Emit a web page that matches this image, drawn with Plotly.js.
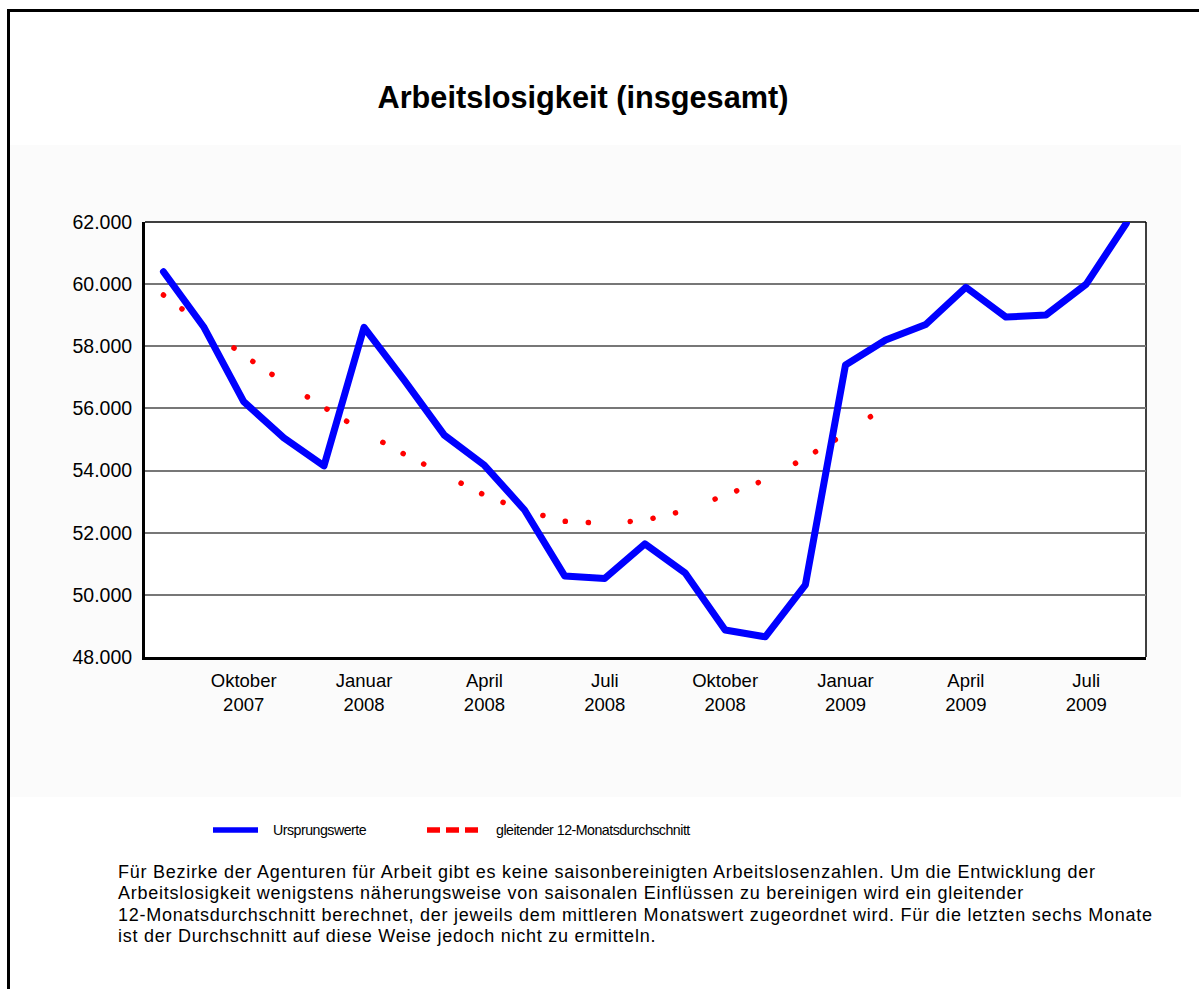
<!DOCTYPE html>
<html>
<head>
<meta charset="utf-8">
<script src="https://cdn.plot.ly/plotly-3.0.1.min.js"></script>
<style>
html,body{margin:0;padding:0;background:#ffffff;overflow:hidden;width:1199px;height:989px;}
#frame{position:absolute;left:7px;top:9px;width:1300px;height:1100px;border:3px solid #000;box-sizing:border-box;}
#panel{position:absolute;left:10px;top:145px;width:1171px;height:652px;background:#fbfbfb;}
#chart{position:absolute;left:0;top:0;width:1199px;height:989px;}
.scatterlayer .js-line{stroke-linecap:round !important;stroke-linejoin:round !important;}
.annotation[data-index="0"] text,.annotation[data-index="1"] text{letter-spacing:-0.5px;}
.annotation[data-index="2"] text,.annotation[data-index="3"] text,
.annotation[data-index="4"] text,.annotation[data-index="5"] text{letter-spacing:0.75px;}
</style>
</head>
<body>
<div id="frame"></div>
<div id="panel"></div>
<div id="chart"></div>
<script>
// Monate (August 2007 bis August 2009)
const months = ['Aug 2007','Sep 2007','Okt 2007','Nov 2007','Dez 2007',
  'Jan 2008','Feb 2008','Mär 2008','Apr 2008','Mai 2008','Jun 2008','Jul 2008',
  'Aug 2008','Sep 2008','Okt 2008','Nov 2008','Dez 2008',
  'Jan 2009','Feb 2009','Mär 2009','Apr 2009','Mai 2009','Jun 2009','Jul 2009','Aug 2009'];

// Ursprungswerte
const ursprungswerte = [60400, 58630, 56220, 55050, 54150,
  58610, 56910, 55140, 54170, 52730, 50610, 50530,
  51640, 50710, 48870, 48650, 50320,
  57400, 58200, 58700, 59900, 58940, 59010, 60000, 61960];

// gleitender 12-Monatsdurchschnitt (bis Februar 2009)
const maMonths = months.slice(0, 19);
const gleitenderDurchschnitt = [59650, 58660, 57710, 56840, 56020,
  55240, 54530, 53890, 53210, 52710, 52370, 52300,
  52400, 52715, 53190, 53700, 54410,
  55190, 56060];

// Achsenbeschriftungen
const tickMonths = ['Okt 2007','Jan 2008','Apr 2008','Jul 2008','Okt 2008','Jan 2009','Apr 2009','Jul 2009'];
const tickLabels = ['Oktober<br>2007','Januar<br>2008','April<br>2008','Juli<br>2008',
  'Oktober<br>2008','Januar<br>2009','April<br>2009','Juli<br>2009'];
const yTicks = [48000, 50000, 52000, 54000, 56000, 58000, 60000, 62000];

const titleText = 'Arbeitslosigkeit (insgesamt)';
const legendNames = ['Ursprungswerte', 'gleitender 12-Monatsdurchschnitt'];
const footnoteLines = [
  'Für Bezirke der Agenturen für Arbeit gibt es keine saisonbereinigten Arbeitslosenzahlen. Um die Entwicklung der',
  'Arbeitslosigkeit wenigstens näherungsweise von saisonalen Einflüssen zu bereinigen wird ein gleitender',
  '12-Monatsdurchschnitt berechnet, der jeweils dem mittleren Monatswert zugeordnet wird. Für die letzten sechs Monate',
  'ist der Durchschnitt auf diese Weise jedoch nicht zu ermitteln.'
];

const FONT = 'Liberation Sans, Arial, sans-serif';

const traces = [
  {
    type: 'scatter', mode: 'lines', name: legendNames[1],
    x: maMonths, y: gleitenderDurchschnitt,
    line: {color: '#ff0000', width: 5.5, dash: '0.1px,23px,0.1px,23px,0.1px,41.9px'},
    hoverinfo: 'x+y'
  },
  {
    type: 'scatter', mode: 'lines', name: legendNames[0],
    x: months, y: ursprungswerte,
    line: {color: '#0000ff', width: 7},
    hoverinfo: 'x+y'
  }
];

// pixel helpers for decoration placement (paper coordinates)
const L = 145, R = 53, T = 222, B = 332, W = 1199, H = 989;
const pw = W - L - R, ph = H - T - B;
const px = v => (v - L) / pw;
const py = v => (H - B - v) / ph;

const annotations = [
  {xref: 'paper', yref: 'paper', x: px(271), y: py(830), xanchor: 'left', yanchor: 'middle', align: 'left',
   showarrow: false, text: legendNames[0], font: {family: FONT, size: 14.2, color: '#000000'}},
  {xref: 'paper', yref: 'paper', x: px(494), y: py(830), xanchor: 'left', yanchor: 'middle', align: 'left',
   showarrow: false, text: legendNames[1], font: {family: FONT, size: 14.2, color: '#000000'}}
];
const lineY = [872, 893.3, 914.7, 936];
footnoteLines.forEach((t, i) => {
  annotations.push({xref: 'paper', yref: 'paper', x: px(116), y: py(lineY[i]), xanchor: 'left', yanchor: 'middle',
    align: 'left', showarrow: false, text: t, font: {family: FONT, size: 18, color: '#000000'}});
});

const layout = {
  width: W, height: H,
  margin: {l: L, r: R, t: T, b: B, pad: 0},
  paper_bgcolor: 'rgba(0,0,0,0)',
  plot_bgcolor: '#ffffff',
  separators: ',.',
  showlegend: false,
  font: {family: FONT, color: '#000000'},
  title: {
    text: '<b>' + titleText + '</b>',
    font: {family: FONT, size: 30.7, color: '#000000'},
    xref: 'container', yref: 'container',
    x: 583 / W, y: 1 - 97 / H, xanchor: 'center', yanchor: 'middle'
  },
  xaxis: {
    type: 'category',
    range: [-0.46, 24.49],
    tickmode: 'array', tickvals: tickMonths, ticktext: tickLabels,
    showgrid: false, zeroline: false,
    showline: true, linecolor: '#000000', linewidth: 3,
    ticks: '', ticklabelstandoff: 5,
    tickfont: {family: FONT, size: 18.5, color: '#000000'},
    fixedrange: true
  },
  yaxis: {
    range: [48000, 62000],
    tickmode: 'array', tickvals: yTicks, tickformat: ',d',
    showgrid: true, gridcolor: '#777777', gridwidth: 1.5,
    zeroline: false,
    showline: true, linecolor: '#000000', linewidth: 3,
    ticks: '', ticklabelstandoff: 6,
    tickfont: {family: FONT, size: 19.5, color: '#000000'},
    fixedrange: true
  },
  shapes: [
    {type: 'line', xref: 'paper', yref: 'paper', x0: 0, x1: 1, y0: 1, y1: 1,
     line: {color: '#000000', width: 1.5}, layer: 'between'},
    {type: 'line', xref: 'paper', yref: 'paper', x0: 1, x1: 1, y0: 0, y1: 1,
     line: {color: '#000000', width: 1.5}, layer: 'between'},
    {type: 'line', xref: 'paper', yref: 'paper', x0: px(213), x1: px(258), y0: py(830), y1: py(830),
     line: {color: '#0000ff', width: 5.5}},
    {type: 'line', xref: 'paper', yref: 'paper', x0: px(427), x1: px(478), y0: py(830), y1: py(830),
     line: {color: '#ff0000', width: 5.5, dash: '13px,6px'}}
  ],
  annotations: annotations
};

Plotly.newPlot('chart', traces, layout, {displayModeBar: false});
</script>
</body>
</html>
